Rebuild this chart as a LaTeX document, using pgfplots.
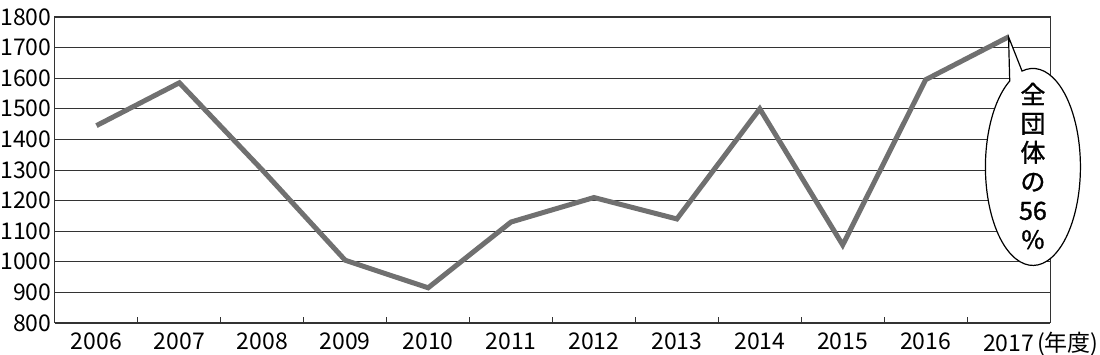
\documentclass[border=0pt]{standalone}
\usepackage{fontspec}
\setmainfont{Noto Sans CJK JP}
\newfontfamily\calfont[FakeBold=1.2]{Noto Sans CJK JP}
\usepackage{pgfplots}
\pgfplotsset{compat=1.18}
\usetikzlibrary{shapes.callouts}
\begin{document}
\begin{tikzpicture}
\begin{axis}[
  name=ax,
  scale only axis, width=995pt, height=306pt,
  xmin=-0.5, xmax=11.5, ymin=800, ymax=1800,
  xtick={0,...,11},
  xticklabels={2006,2007,2008,2009,2010,2011,2012,2013,2014,2015,2016,{2017\rlap{\hspace{3pt}(年度)}}},
  major x tick style={draw=none},
  minor xtick={0.5,1.5,...,10.5},
  minor tick length=6pt,
  xtick pos=bottom,
  ytick={800,900,...,1800},
  ytick pos=left,
  major y tick style={draw=none},
  ymajorgrids,
  major grid style={black!80, line width=0.9pt},
  axis line style={black!80, line width=1pt},
  minor x tick style={black!80, line width=1pt},
  /pgf/number format/1000 sep={},
  /pgf/number format/assume math mode=true,
  tick label style={font=\fontsize{23}{27}\selectfont},
  xticklabel style={yshift=-6pt},
  yticklabel style={xshift=0pt},
]
\addplot[black!56, line width=5pt, line join=miter] coordinates {
  (0,1445) (1,1585) (2,1300) (3,1005) (4,915) (5,1130)
  (6,1210) (7,1140) (8,1500) (9,1055) (10,1595) (11,1735)
};
\coordinate (tip) at (axis cs:11,1735);
\coordinate (cc) at (axis cs:11.294,1310);
\end{axis}
\node[ellipse callout, draw=black, line width=1.2pt, fill=white,
  minimum width=95pt, minimum height=197pt, inner sep=0pt,
  callout absolute pointer={(tip)}, callout pointer arc=16] at (cc) {};
\node[align=center, inner sep=0pt, font=\calfont\fontsize{25}{29}\selectfont] at ([yshift=1pt]cc)
  {全\\団\\体\\の\\56\\\%};
\pgfresetboundingbox
\path ([shift={(-55pt,-32pt)}]ax.south west) rectangle ([shift={(50pt,17pt)}]ax.north east);
\end{tikzpicture}
\end{document}
